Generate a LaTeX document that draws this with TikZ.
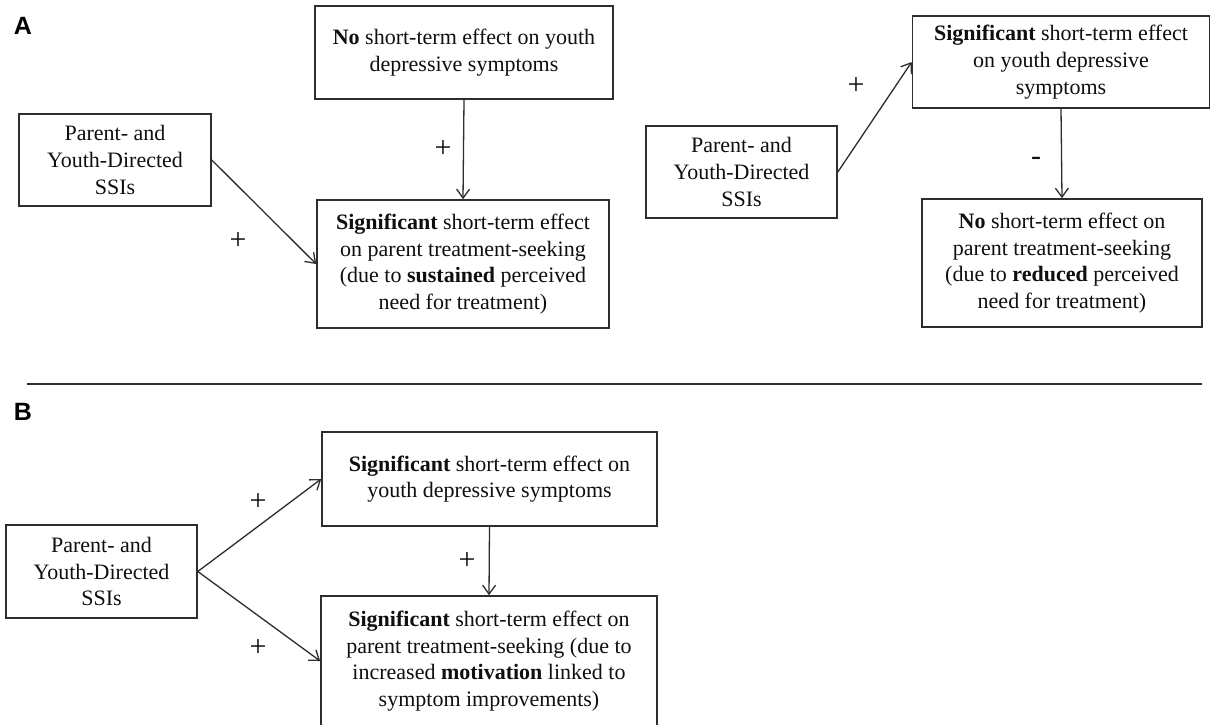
\documentclass[tikz,border=0pt]{standalone}
\usepackage{fontspec}
\setmainfont{Liberation Serif}
\newfontfamily\labelfont{Liberation Sans}
\usetikzlibrary{arrows.meta}
\definecolor{linegray}{RGB}{45,45,45}
\definecolor{txt}{RGB}{15,15,15}
\begin{document}
\begin{tikzpicture}[x=1pt,y=-1pt,
  box/.style={draw=linegray, line width=1.6pt, inner sep=0pt, align=center,
    font=\fontsize{22}{26.7}\selectfont, text=txt},
  boxwh/.style 2 args={box, minimum width=#1pt, minimum height=#2pt},
  conn/.style={draw=linegray, line width=1.3pt, -{Straight Barb[length=9pt,width=13pt]}},
  sign/.style={font=\fontsize{30}{30}\selectfont, text=txt, inner sep=0pt},
  panel/.style={font=\labelfont\bfseries\fontsize{25}{25}\selectfont, text=black, inner sep=0pt},
  sepline/.style={draw=linegray, line width=1.6pt}
]
\useasboundingbox (0,0) rectangle (1212,724);
\clip (0,0) rectangle (1212,724);
\fill[white] (0,0) rectangle (1212,724);

% Panel A
\node[panel] (labA) at (23,26) {A};

\node[boxwh={192}{92}] (L1) at (115,160) {Parent- and\\Youth-Directed\\SSIs};
\node[boxwh={298}{93}] (T1) at (464,52.5) {\textbf{No} short-term effect on youth\\depressive symptoms};
\node[boxwh={292}{128}] (B1) at (463,264) {\textbf{Significant} short-term effect\\on parent treatment-seeking\\(due to \textbf{sustained} perceived\\need for treatment)};
\draw[conn] (L1.east) -- (B1.west);
\draw[conn] (T1.south) -- (B1.north);
\node[sign] (pA1) at (443,149) {+};
\node[sign] (pA2) at (238,241) {+};

\node[boxwh={191}{92}] (L2) at (741.5,172) {Parent- and\\Youth-Directed\\SSIs};
\node[boxwh={297}{92}] (T2) at (1061,62) {\textbf{Significant} short-term effect\\on youth depressive\\symptoms};
\node[boxwh={280}{128}] (B2) at (1062,263) {\textbf{No} short-term effect on\\parent treatment-seeking\\(due to \textbf{reduced} perceived\\need for treatment)};
\draw[conn] (L2.east) -- (T2.west);
\draw[conn] (T2.south) -- (B2.north);
\node[sign] (pA3) at (856,86) {+};
\node[sign] (mA1) at (1036,161) {-};

% separator
\coordinate (sepL) at (27,384);
\coordinate (sepR) at (1202,384);
\draw[sepline] (sepL) -- (sepR);

% Panel B
\node[panel] (labB) at (23,412) {B};

\node[boxwh={191}{93}] (L3) at (101.5,571.5) {Parent- and\\Youth-Directed\\SSIs};
\node[boxwh={335}{94}] (T3) at (489.5,479) {\textbf{Significant} short-term effect on\\youth depressive symptoms};
\node[boxwh={336}{130}] (B3) at (489,661) {\textbf{Significant} short-term effect on\\parent treatment-seeking (due to\\increased \textbf{motivation} linked to\\symptom improvements)};
\draw[conn] (L3.east) -- (T3.west);
\draw[conn] (L3.east) -- (B3.west);
\draw[conn] (T3.south) -- (B3.north);
\node[sign] (pB1) at (258,502) {+};
\node[sign] (pB2) at (258,648) {+};
\node[sign] (pB3) at (467,561) {+};
\end{tikzpicture}
\end{document}
